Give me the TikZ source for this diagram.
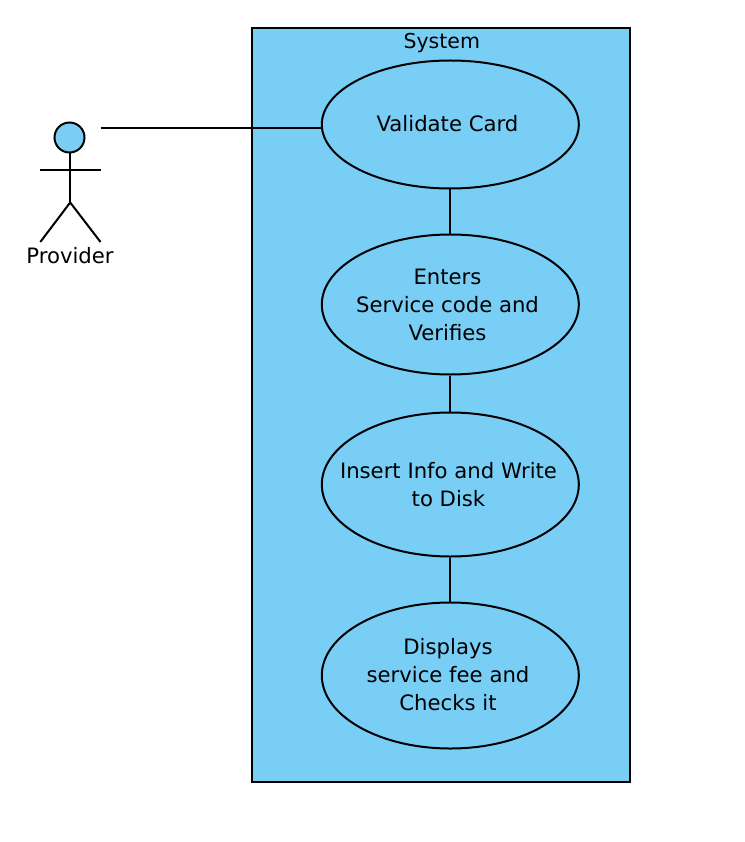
\documentclass[tikz,border=0pt]{standalone}
\usepackage{fontspec}
\setmainfont{DejaVu Sans}
\usetikzlibrary{shapes.geometric}
\definecolor{umlblue}{HTML}{79CEF6}
\tikzset{
  x=1pt,y=-1pt,
  usecase/.style={ellipse,draw=black,fill=umlblue,line width=2pt,inner sep=0pt,minimum width=257pt},
  label/.style={font=\fontsize{21.2}{28}\selectfont,align=center,text=black},
  conn/.style={draw=black,line width=2pt},
}
\begin{document}
\begin{tikzpicture}
\useasboundingbox (0,0) rectangle (744,842);
\node[draw=black,fill=umlblue,line width=2pt,minimum width=378pt,minimum height=754pt,inner sep=0pt] (sys) at (441.2,405) {};
\node[label,font=\fontsize{20.5}{28}\selectfont] (systitle) at (441.8,43.5) {System};
\node[usecase,minimum height=128pt] (uc1) at (450.3,124.5) {};
\node[usecase,minimum height=140pt] (uc2) at (450.3,304.5) {};
\node[usecase,minimum height=144pt] (uc3) at (450.3,484.5) {};
\node[usecase,minimum height=146pt] (uc4) at (450.3,675.5) {};
\node[label] (t1) at (447.5,124) {Validate Card};
\node[label] (t2) at (447.5,304.5) {Enters\\Service code and\\Verifies};
\node[label] (t3) at (448.5,484.5) {Insert Info and Write\\to Disk};
\node[label] (t4) at (448,675) {Displays\\service fee and\\Checks it};
\draw[conn] (uc1) -- (uc2);
\draw[conn] (uc2) -- (uc3);
\draw[conn] (uc3) -- (uc4);
% actor
\node[circle,draw=black,fill=umlblue,line width=2pt,minimum size=30pt,inner sep=0pt] (head) at (69.5,137.5) {};
\coordinate (neck) at (70.2,152.5);
\coordinate (hip) at (70.2,202.5);
\coordinate (armL) at (40.3,170.3);
\coordinate (armR) at (100.5,170.3);
\coordinate (footL) at (40.3,242);
\coordinate (footR) at (100.5,242);
\coordinate (act) at (100.5,128.5);
\draw[conn] (neck) -- (hip);
\draw[conn] (armL) -- (armR);
\draw[conn] (footL) -- (hip) -- (footR);
\node[label] (prov) at (70,256) {Provider};
\draw[conn] (act) -- (uc1.west |- act);
\end{tikzpicture}
\end{document}
